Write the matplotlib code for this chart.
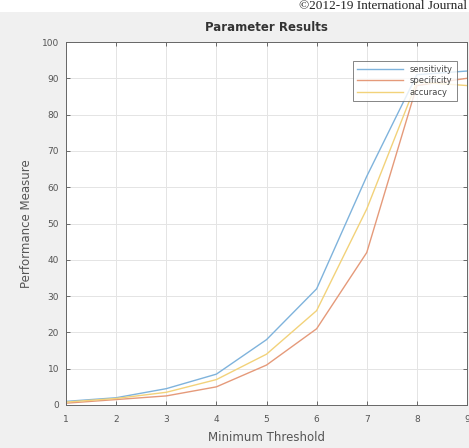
import matplotlib
matplotlib.use("Agg")
import matplotlib.pyplot as plt

thresholds = [1, 2, 3, 4, 5, 6, 7, 8, 9]
sensitivity = [1, 2, 4.5, 8.5, 18, 32, 63, 91, 92]
specificity = [0.5, 1.5, 2.5, 5, 11, 21, 42, 88, 90]
accuracy = [0.8, 1.8, 3.5, 7, 14, 26, 54, 89, 88]
series_names = ["sensitivity", "specificity", "accuracy"]
y_ticks = [0, 10, 20, 30, 40, 50, 60, 70, 80, 90, 100]

fig = plt.figure(figsize=(4.69, 4.48), dpi=100)
fig.patch.set_facecolor("#f0f0f0")
# white strip at top with header text
fig.patches.append(plt.Rectangle((0, 1-12/448), 1, 12/448 + 0.01, transform=fig.transFigure,
                                 facecolor="white", edgecolor="none", zorder=0))
fig.text(0.995, 0.999, "©2012-19 International Journal", ha="right", va="top",
         family="Liberation Serif", fontsize=9.5, color="#222222")

ax = fig.add_axes([66/469, 1-405/448, (467-66)/469, (405-42)/448])
ax.set_facecolor("white")

colors = ["#7fb3dc", "#e59a7a", "#f2d27a"]
for name, vals, c in zip(series_names, [sensitivity, specificity, accuracy], colors):
    ax.plot(thresholds, vals, color=c, lw=1.0, label=name)

ax.set_xlim(1, 9)
ax.set_ylim(0, 100)
ax.set_xticks(thresholds)
ax.set_yticks(y_ticks)
ax.grid(True, color="#e4e4e4", lw=0.7)
ax.tick_params(direction="in", top=True, right=True, labelsize=6.5,
               colors="#555555", length=3, width=0.6)
ax.tick_params(axis="x", pad=7)
ax.tick_params(axis="y", pad=5)
for s in ax.spines.values():
    s.set_color("#666666")
    s.set_linewidth(0.7)

ax.set_title("Parameter Results", fontsize=8.5, fontweight="bold", color="#333333", pad=8)
ax.set_xlabel("Minimum Threshold", fontsize=8.5, color="#555555", labelpad=5)
ax.set_ylabel("Performance Measure", fontsize=8.5, color="#555555", labelpad=6)

leg = ax.legend(loc="upper right", fontsize=6, frameon=True, fancybox=False,
                edgecolor="#666666", handlelength=5.5, borderpad=0.5,
                labelspacing=0.3, bbox_to_anchor=(0.985, 0.96))
leg.get_frame().set_linewidth(0.7)
for t in leg.get_texts():
    t.set_color("#444444")

fig.savefig("out.png", dpi=100, facecolor=fig.get_facecolor())
